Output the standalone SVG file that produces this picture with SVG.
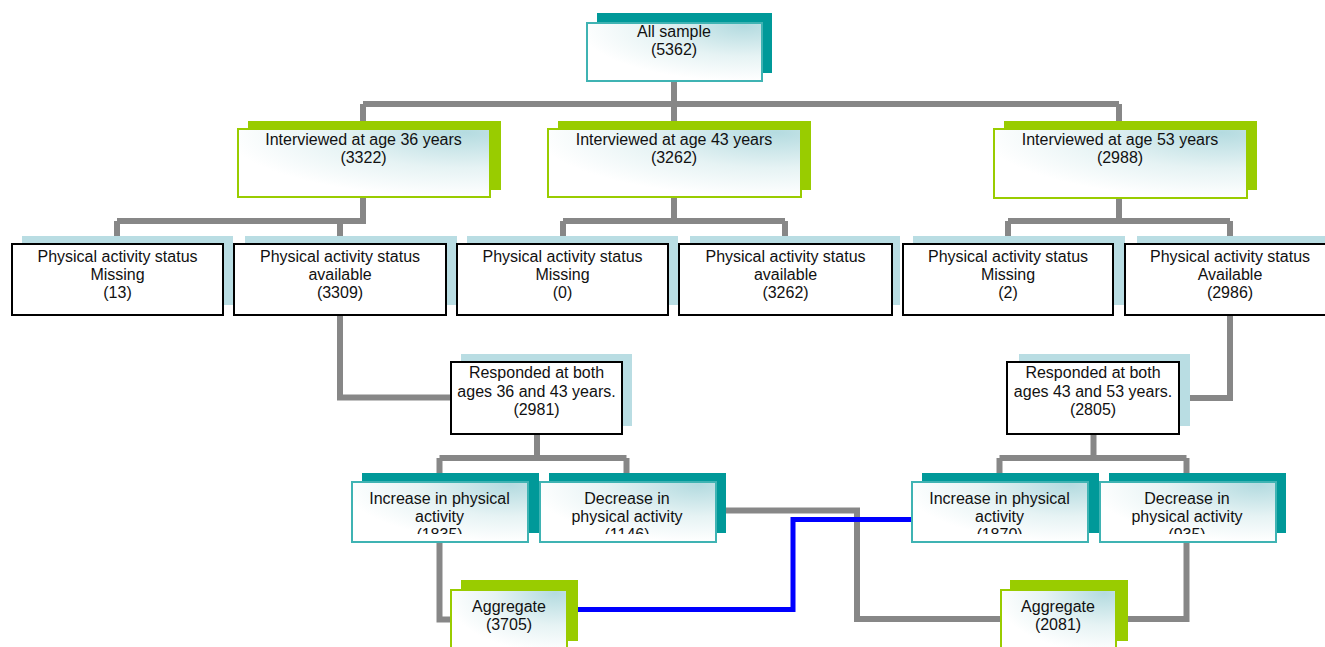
<svg xmlns="http://www.w3.org/2000/svg" width="1325" height="647" viewBox="0 0 1325 647">
  <defs>
    <radialGradient id="glow" cx="0.9" cy="0.05" r="0.95">
      <stop offset="0" stop-color="#b4dbe0"/>
      <stop offset="0.55" stop-color="#e6f3f4"/>
      <stop offset="1" stop-color="#ffffff"/>
    </radialGradient>
    <clipPath id="rowClip">
      <rect x="0" y="470" width="1325" height="64"/>
    </clipPath>
  </defs>
  <style>
    .lbl{font-family:"Liberation Sans",Arial,sans-serif;font-size:16px;fill:#111;text-anchor:middle}
    .conn{fill:none;stroke:#878787;stroke-width:6;stroke-linejoin:miter;stroke-linecap:butt}
    .blue{fill:none;stroke:#0000ff;stroke-width:5}
    .sh-teal{fill:#009999}
    .sh-green{fill:#99cc00}
    .sh-blue{fill:#b9dde3}
    .fr-teal{fill:url(#glow);stroke:#3fb3b3;stroke-width:2}
    .fr-green{fill:url(#glow);stroke:#99cc00;stroke-width:2}
    .fr-plain{fill:#ffffff;stroke:#000000;stroke-width:2}
  </style>

  <!-- connectors (drawn beneath the boxes) -->
  <g id="connectors">
    <path class="conn" d="M674 81 V104 M363 104 H1119 M363 104 V128 M674 104 V128 M1119 104 V128"/>
    <path class="conn" d="M363 197 V221 M117 221 H366 M117 221 V244 M340 221 V244"/>
    <path class="conn" d="M674 197 V221 M563 221 H785 M563 221 V244 M785 221 V244"/>
    <path class="conn" d="M1119 197 V221 M1008 221 H1230 M1008 221 V244 M1230 221 V244"/>
    <path class="conn" d="M340 315 V397.5 H451"/>
    <path class="conn" d="M1230 315 V398 H1179"/>
    <path class="conn" d="M537 434 V458 M439.5 458 H626.5 M439.5 458 V481 M626.5 458 V481"/>
    <path class="conn" d="M1093.5 434 V458 M999.5 458 H1186.5 M999.5 458 V481 M1186.5 458 V481"/>
    <path class="conn" d="M439.5 542 V619.5 H450"/>
    <path class="conn" d="M716 510.5 H857 V619 H1000"/>
    <path class="conn" d="M1186.5 542 V619 H1116"/>
    <path class="blue" d="M567 609.5 H793 V519.5 H911"/>
  </g>

  <g id="all-sample">
    <rect class="sh-teal" x="597" y="13" width="175" height="60"/>
    <rect class="fr-teal" x="587" y="23" width="175" height="58"/>
    <text class="lbl" x="674" y="37">All sample</text>
    <text class="lbl" x="674" y="55">(5362)</text>
  </g>

  <g id="age36">
    <rect class="sh-green" x="248" y="121" width="253" height="69"/>
    <rect class="fr-green" x="238" y="129" width="252" height="68"/>
    <text class="lbl" x="363.5" y="145">Interviewed at age 36 years</text>
    <text class="lbl" x="363.5" y="163">(3322)</text>
  </g>

  <g id="age43">
    <rect class="sh-green" x="558" y="121" width="253" height="69"/>
    <rect class="fr-green" x="548" y="129" width="253" height="68"/>
    <text class="lbl" x="674" y="145">Interviewed at age 43 years</text>
    <text class="lbl" x="674" y="163">(3262)</text>
  </g>

  <g id="age53">
    <rect class="sh-green" x="1004" y="121" width="253" height="69"/>
    <rect class="fr-green" x="994" y="129" width="253" height="69"/>
    <text class="lbl" x="1120" y="145">Interviewed at age 53 years</text>
    <text class="lbl" x="1120" y="163">(2988)</text>
  </g>

  <g id="missing36">
    <rect class="sh-blue" x="22" y="236" width="211" height="69"/>
    <rect class="fr-plain" x="12" y="244" width="211" height="71"/>
    <text class="lbl" x="117.5" y="262">Physical activity status</text>
    <text class="lbl" x="117.5" y="280">Missing</text>
    <text class="lbl" x="117.5" y="298">(13)</text>
  </g>

  <g id="available36">
    <rect class="sh-blue" x="245" y="236" width="212" height="69"/>
    <rect class="fr-plain" x="234" y="244" width="212" height="71"/>
    <text class="lbl" x="340" y="262">Physical activity status</text>
    <text class="lbl" x="340" y="280">available</text>
    <text class="lbl" x="340" y="298">(3309)</text>
  </g>

  <g id="missing43">
    <rect class="sh-blue" x="467" y="236" width="211" height="69"/>
    <rect class="fr-plain" x="457" y="244" width="211" height="71"/>
    <text class="lbl" x="562.5" y="262">Physical activity status</text>
    <text class="lbl" x="562.5" y="280">Missing</text>
    <text class="lbl" x="562.5" y="298">(0)</text>
  </g>

  <g id="available43">
    <rect class="sh-blue" x="690" y="236" width="210" height="69"/>
    <rect class="fr-plain" x="679" y="244" width="213" height="71"/>
    <text class="lbl" x="785.5" y="262">Physical activity status</text>
    <text class="lbl" x="785.5" y="280">available</text>
    <text class="lbl" x="785.5" y="298">(3262)</text>
  </g>

  <g id="missing53">
    <rect class="sh-blue" x="913" y="236" width="212" height="69"/>
    <rect class="fr-plain" x="903" y="244" width="210" height="71"/>
    <text class="lbl" x="1008" y="262">Physical activity status</text>
    <text class="lbl" x="1008" y="280">Missing</text>
    <text class="lbl" x="1008" y="298">(2)</text>
  </g>

  <g id="available53">
    <rect class="sh-blue" x="1137" y="236" width="200" height="69"/>
    <rect class="fr-plain" x="1125" y="244" width="210" height="71"/>
    <text class="lbl" x="1230" y="262">Physical activity status</text>
    <text class="lbl" x="1230" y="280">Available</text>
    <text class="lbl" x="1230" y="298">(2986)</text>
  </g>

  <g id="both36-43">
    <rect class="sh-blue" x="461" y="354" width="171" height="72"/>
    <rect class="fr-plain" x="451" y="362" width="171" height="72"/>
    <text class="lbl" x="536.5" y="378">Responded at both</text>
    <text class="lbl" x="536.5" y="397">ages 36 and 43 years.</text>
    <text class="lbl" x="536.5" y="415">(2981)</text>
  </g>

  <g id="both43-53">
    <rect class="sh-blue" x="1019" y="354" width="171" height="72"/>
    <rect class="fr-plain" x="1007" y="362" width="172" height="72"/>
    <text class="lbl" x="1093" y="378">Responded at both</text>
    <text class="lbl" x="1093" y="397">ages 43 and 53 years.</text>
    <text class="lbl" x="1093" y="415">(2805)</text>
  </g>

  <g id="increase-a">
    <rect class="sh-teal" x="362" y="473" width="177" height="60"/>
    <rect class="fr-teal" x="352" y="482" width="176" height="60"/>
    <g clip-path="url(#rowClip)">
      <text class="lbl" x="439.5" y="504">Increase in physical</text>
      <text class="lbl" x="439.5" y="522">activity</text>
      <text class="lbl" x="439.5" y="540">(1835)</text>
    </g>
  </g>

  <g id="decrease-a">
    <rect class="sh-teal" x="549" y="473" width="177" height="60"/>
    <rect class="fr-teal" x="540" y="482" width="176" height="60"/>
    <g clip-path="url(#rowClip)">
      <text class="lbl" x="627" y="504">Decrease in</text>
      <text class="lbl" x="627" y="522">physical activity</text>
      <text class="lbl" x="627" y="540">(1146)</text>
    </g>
  </g>

  <g id="increase-b">
    <rect class="sh-teal" x="922" y="473" width="177" height="60"/>
    <rect class="fr-teal" x="912" y="482" width="176" height="60"/>
    <g clip-path="url(#rowClip)">
      <text class="lbl" x="999.5" y="504">Increase in physical</text>
      <text class="lbl" x="999.5" y="522">activity</text>
      <text class="lbl" x="999.5" y="540">(1870)</text>
    </g>
  </g>

  <g id="decrease-b">
    <rect class="sh-teal" x="1109" y="473" width="177" height="60"/>
    <rect class="fr-teal" x="1100" y="482" width="176" height="60"/>
    <g clip-path="url(#rowClip)">
      <text class="lbl" x="1187" y="504">Decrease in</text>
      <text class="lbl" x="1187" y="522">physical activity</text>
      <text class="lbl" x="1187" y="540">(935)</text>
    </g>
  </g>

  <g id="aggregate-a">
    <rect class="sh-green" x="461" y="580" width="117" height="61"/>
    <rect class="fr-green" x="451" y="590" width="116" height="62"/>
    <text class="lbl" x="509" y="612">Aggregate</text>
    <text class="lbl" x="509" y="630">(3705)</text>
  </g>

  <g id="aggregate-b">
    <rect class="sh-green" x="1010" y="580" width="118" height="61"/>
    <rect class="fr-green" x="1001" y="590" width="115" height="62"/>
    <text class="lbl" x="1058" y="612">Aggregate</text>
    <text class="lbl" x="1058" y="630">(2081)</text>
  </g>
</svg>
